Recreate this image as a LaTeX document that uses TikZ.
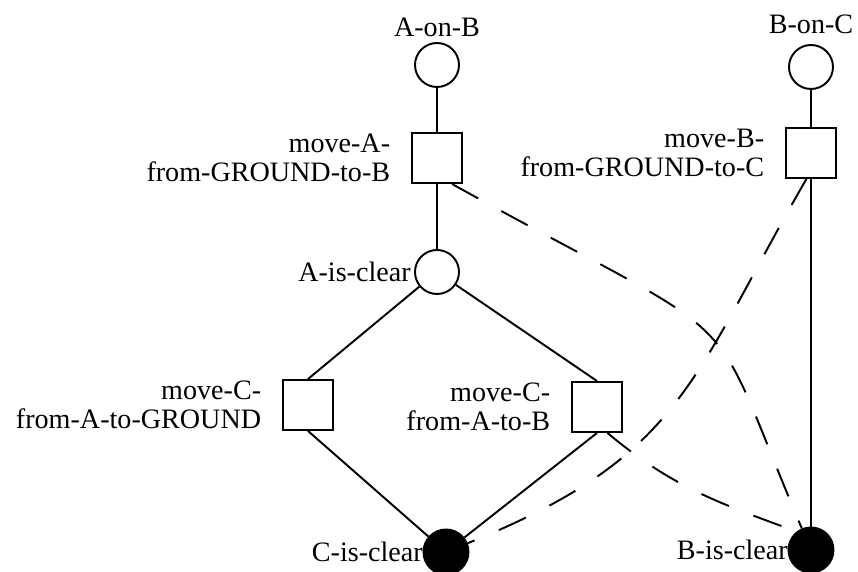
\documentclass[tikz,border=0pt]{standalone}
\usepackage{fontspec}
\setmainfont{Liberation Serif}
\usetikzlibrary{shapes.geometric, arrows, positioning, calc}

\begin{document}
\begin{tikzpicture}[font=\fontsize{16}{16.5}\selectfont, line width=1.1pt]
    \tikzstyle{fact} = [circle, draw=black, minimum size=0.88cm, inner sep=0pt]
    \tikzstyle{goalfact} = [circle, draw=black, fill=black, minimum size=0.9cm, inner sep=0pt]
    \tikzstyle{op} = [rectangle, draw=black, minimum width=1cm, minimum height=1cm, inner sep=0pt]
    \tikzstyle{optext} = [align=right, xshift=-8pt]
    \tikzstyle{goaltext} = [xshift=4pt]
    \tikzstyle{link} = [line width=1.1pt]
    \tikzstyle{threat} = [line width=1.1pt, dash pattern=on 17pt off 15pt]

    \useasboundingbox (0,0) rectangle (17.16,11.44);

    % left chain
    \node[fact, label={[yshift=-1pt]above:A-on-B}] (aonb) at (8.74,10.14) {};
    \node[op, label={[optext]left:move-A-\\from-GROUND-to-B}] (movea) at (8.74,8.28) {};
    \node[fact, label={[xshift=2pt]left:A-is-clear}] (aisclear) at (8.74,6.0) {};
    \node[op, label={[optext]left:move-C-\\from-A-to-GROUND}] (movecg) at (6.16,3.34) {};
    \node[op, label={[optext]left:move-C-\\from-A-to-B}] (movecb) at (11.94,3.3) {};
    \node[goalfact, label={[goaltext]left:C-is-clear}] (cisclear) at (8.92,0.4) {};

    % right chain
    \node[fact, label={[yshift=2pt]above:B-on-C}] (bonc) at (16.22,10.1) {};
    \node[op, label={[optext]left:move-B-\\from-GROUND-to-C}] (moveb) at (16.22,8.38) {};
    \node[goalfact, label={[goaltext]left:B-is-clear}] (bisclear) at (16.22,0.44) {};

    \draw[link] (aonb) -- (movea);
    \draw[link] (movea) -- (aisclear);
    \draw[link] (aisclear) -- (movecg.north);
    \draw[link] (aisclear) -- (movecb.north);
    \draw[link] (movecg.south) -- (cisclear);
    \draw[link] (movecb.south) -- (cisclear);
    \draw[link] (bonc) -- (moveb);
    \draw[link] (moveb) -- (bisclear);

    % threats
    \draw[threat] (movea.-60) .. controls +(-29:7.1) and +(113:5.2) .. (bisclear.113);
    \draw[threat] (moveb.-100) to[out=240, in=22, looseness=1.2] (cisclear.22);
    \draw[threat] (movecb.-68) to[out=-40, in=160] (bisclear.128);
\end{tikzpicture}
\end{document}
